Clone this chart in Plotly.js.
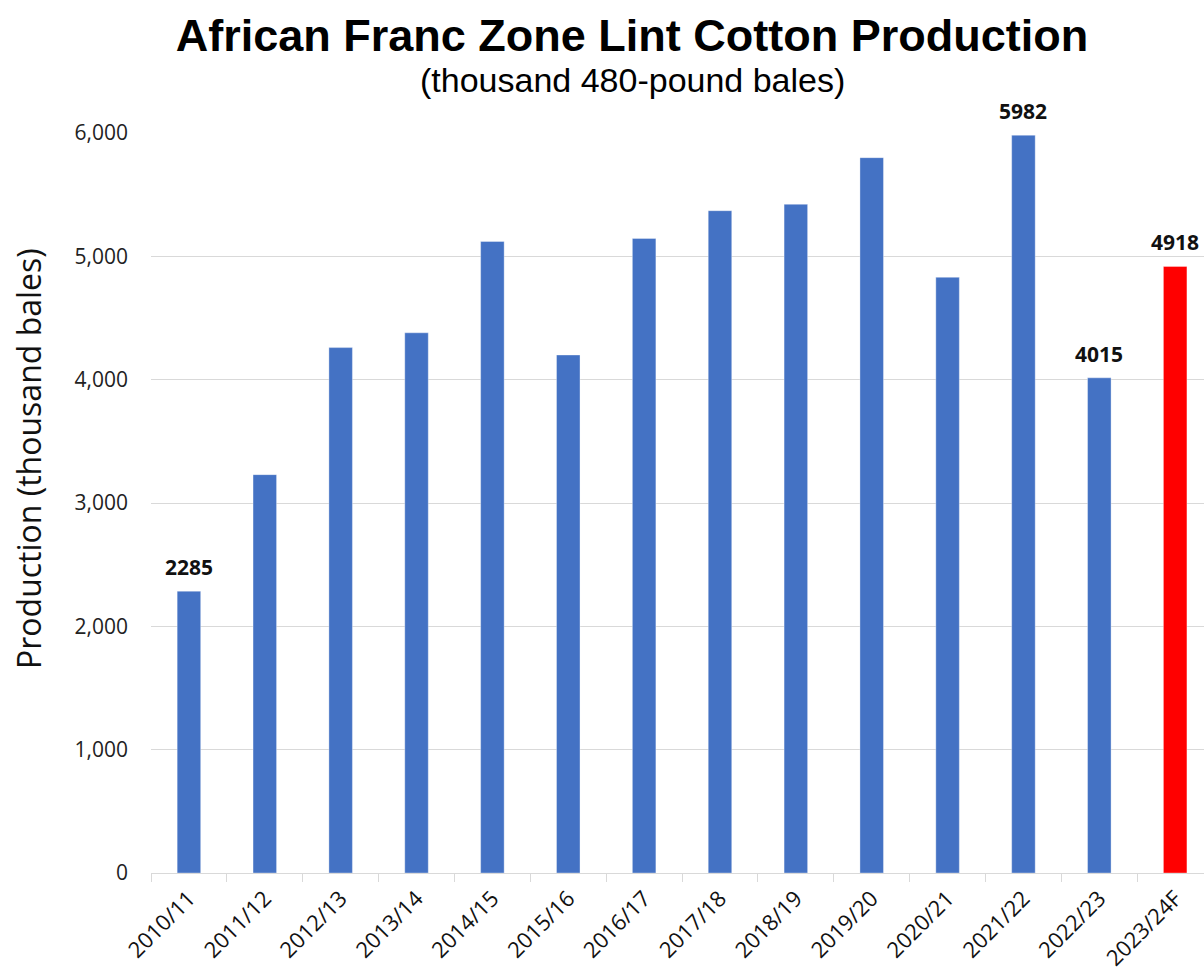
<!DOCTYPE html>
<html>
<head>
<meta charset="utf-8">
<script src="https://cdn.plot.ly/plotly-3.0.1.min.js"></script>
<style>html,body{margin:0;padding:0;background:#fff;}#chart{width:1204px;height:973px;}</style>
</head>
<body>
<div id="chart"></div>
<script>
const seasons = ["2010/11","2011/12","2012/13","2013/14","2014/15","2015/16","2016/17","2017/18","2018/19","2019/20","2020/21","2021/22","2022/23","2023/24F"];
const production = [2285, 3230, 4260, 4380, 5120, 4200, 5145, 5370, 5422, 5800, 4830, 5982, 4015, 4918];
const barColors = ["#4472C4","#4472C4","#4472C4","#4472C4","#4472C4","#4472C4","#4472C4","#4472C4","#4472C4","#4472C4","#4472C4","#4472C4","#4472C4","#FF0000"];
const valueLabels = ["2285","","","","","","","","","","","5982","4015","4918"];
const yTicks = [0, 1000, 2000, 3000, 4000, 5000, 6000];
const yTickText = ["0","1,000","2,000","3,000","4,000","5,000","6,000"];

const trace = {
  type: "bar",
  x: seasons,
  y: production,
  marker: { color: barColors, line: { color: "rgba(255,255,255,0.35)", width: 1 } },
  hoverinfo: "x+y"
};

const annotations = [];
seasons.forEach((s, i) => {
  if (valueLabels[i]) {
    annotations.push({
      x: s, y: production[i], xref: "x", yref: "y",
      text: valueLabels[i], showarrow: false,
      yanchor: "bottom", yshift: 8,
      font: { family: "Open Sans, sans-serif", size: 21, color: "#111", weight: "bold" }
    });
  }
});
annotations.push({
  text: "(thousand 480-pound bales)", xref: "paper", yref: "paper",
  x: (632 - 151) / 1053, y: (873 - 80) / 740, xanchor: "center", yanchor: "middle",
  showarrow: false, font: { family: "Liberation Sans, Arial, sans-serif", size: 34, color: "#000" }
});
annotations.push({
  text: "Production (thousand bales)", xref: "paper", yref: "paper",
  x: (28 - 151) / 1053, y: (873 - 459) / 740, xanchor: "center", yanchor: "middle",
  textangle: -90, showarrow: false,
  font: { family: "Open Sans, sans-serif", size: 32, color: "#111" }
});

const layout = {
  width: 1204, height: 973,
  margin: { l: 151, r: 0, t: 133, b: 100 },
  paper_bgcolor: "#fff", plot_bgcolor: "#fff",
  showlegend: false,
  bargap: 0.69,
  title: {
    text: "<b>African Franc Zone Lint Cotton Production</b>",
    x: 632 / 1204, xanchor: "center", xref: "container",
    y: 1 - 35 / 973, yanchor: "middle", yref: "container",
    font: { family: "Liberation Sans, Arial, sans-serif", size: 45, color: "#000" }
  },
  xaxis: {
    type: "category",
    range: [-0.5, 13.38],
    tickangle: -45,
    ticks: "outside", tickson: "boundaries", ticklen: 8, tickcolor: "#d9d9d9", tickwidth: 1,
    showline: true, linecolor: "#d9d9d9", linewidth: 1,
    showgrid: false,
    ticklabelstandoff: 3,
    tickfont: { family: "Open Sans, sans-serif", size: 22, color: "#111" },
    fixedrange: true
  },
  yaxis: {
    range: [0, 6000],
    tickvals: yTicks, ticktext: yTickText,
    showgrid: true, gridcolor: "#d9d9d9", gridwidth: 1,
    zeroline: false, showline: false, ticks: "",
    ticklabelstandoff: 22,
    tickfont: { family: "Open Sans, sans-serif", size: 21, color: "#222" },
    fixedrange: true
  },
  annotations: annotations
};

Plotly.newPlot("chart", [trace], layout, { displayModeBar: false, staticPlot: true });
</script>
</body>
</html>
